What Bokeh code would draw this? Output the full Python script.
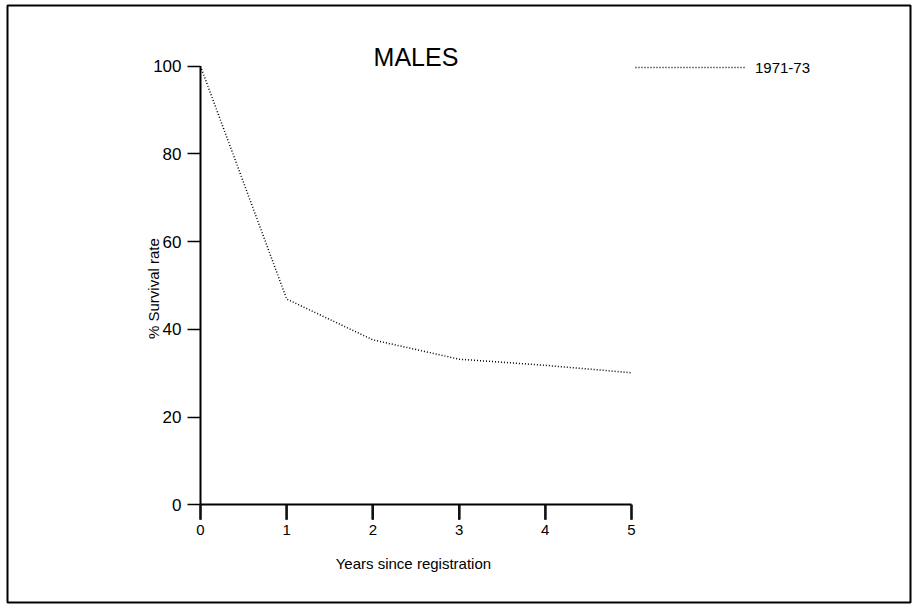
import math
from bokeh.plotting import figure
from bokeh.models import Range1d, Legend, LegendItem, FixedTicker, Label
from bokeh.embed import file_html
from bokeh.resources import INLINE

# ---- data ----
years = [0, 1, 2, 3, 4, 5]
survival = [100, 46.9, 37.6, 33.2, 31.8, 30.1]
x_ticks = [0, 1, 2, 3, 4, 5]
y_ticks = [0, 20, 40, 60, 80, 100]
title_text = "MALES"
series_label = "1971-73"
x_label = "Years since registration"
y_label = "% Survival rate"

FONT = "Liberation Sans"
PX_PER_Y = 4.386      # vertical scale of the frame (pixels per % unit)
X_TICK_LEN = 15       # tick length in pixels

p = figure(width=914, height=608, output_backend="svg", toolbar_location=None,
           x_range=Range1d(-2.239, 8.237), y_range=Range1d(-22.28, 113.84),
           min_border_left=7, min_border_right=4,
           min_border_top=5, min_border_bottom=6,
           background_fill_color="white", border_fill_color="white")
p.outline_line_color = "black"
p.outline_line_width = 2
p.grid.visible = False

# x axis
xa = p.xaxis[0]
xa.fixed_location = 0
xa.bounds = (0, 5)
xa.ticker = FixedTicker(ticks=x_ticks)
xa.major_tick_out = X_TICK_LEN
xa.major_tick_in = 0
xa.minor_tick_out = 0
xa.minor_tick_in = 0
xa.axis_line_width = 2
xa.axis_line_color = "black"
xa.major_tick_line_width = 2
xa.major_tick_line_color = "black"
xa.major_label_standoff = 5
xa.major_label_text_font = FONT
xa.major_label_text_font_size = "15px"
xa.major_label_text_color = "black"

# downward tick marks at the x tick values (drawn through the data scales)
p.segment(x0=x_ticks, y0=[0] * len(x_ticks), x1=x_ticks,
          y1=[-X_TICK_LEN / PX_PER_Y] * len(x_ticks),
          line_color="#111111", line_width=2.2, level="overlay")

# y axis
ya = p.yaxis[0]
ya.fixed_location = 0
ya.bounds = (0, 100)
ya.ticker = FixedTicker(ticks=y_ticks)
ya.major_tick_out = 13
ya.major_tick_in = 0
ya.minor_tick_out = 0
ya.minor_tick_in = 0
ya.axis_line_width = 2
ya.axis_line_color = "black"
ya.major_tick_line_width = 1.5
ya.major_tick_line_color = "black"
ya.major_label_standoff = 6
ya.major_label_text_font = FONT
ya.major_label_text_font_size = "17px"
ya.major_label_text_color = "black"

r = p.line(years, survival, line_dash="1 2", line_width=1.5, color="black")

legend = Legend(items=[LegendItem(label=series_label, renderers=[r])],
                location=(628, 525), glyph_width=110, glyph_height=20,
                label_height=20, padding=0, margin=0, spacing=0,
                border_line_color=None, background_fill_alpha=0,
                label_standoff=10, label_text_font=FONT,
                label_text_font_size="15px", label_text_color="black")
p.add_layout(legend, "center")

p.add_layout(Label(x=2.5, y=102.2, text=title_text, text_align="center",
                   text_baseline="middle", text_font=FONT, text_font_size="25px",
                   text_color="black"))
p.add_layout(Label(x=2.47, y=-13.4, text=x_label, text_align="center",
                   text_baseline="middle", text_font=FONT, text_font_size="15px",
                   text_color="black"))
p.add_layout(Label(x=-0.55, y=49.3, text=y_label, text_align="center",
                   text_baseline="middle", angle=math.pi / 2,
                   text_font=FONT, text_font_size="15px", text_color="black"))

open("out.html", "w").write(file_html(p, INLINE))
